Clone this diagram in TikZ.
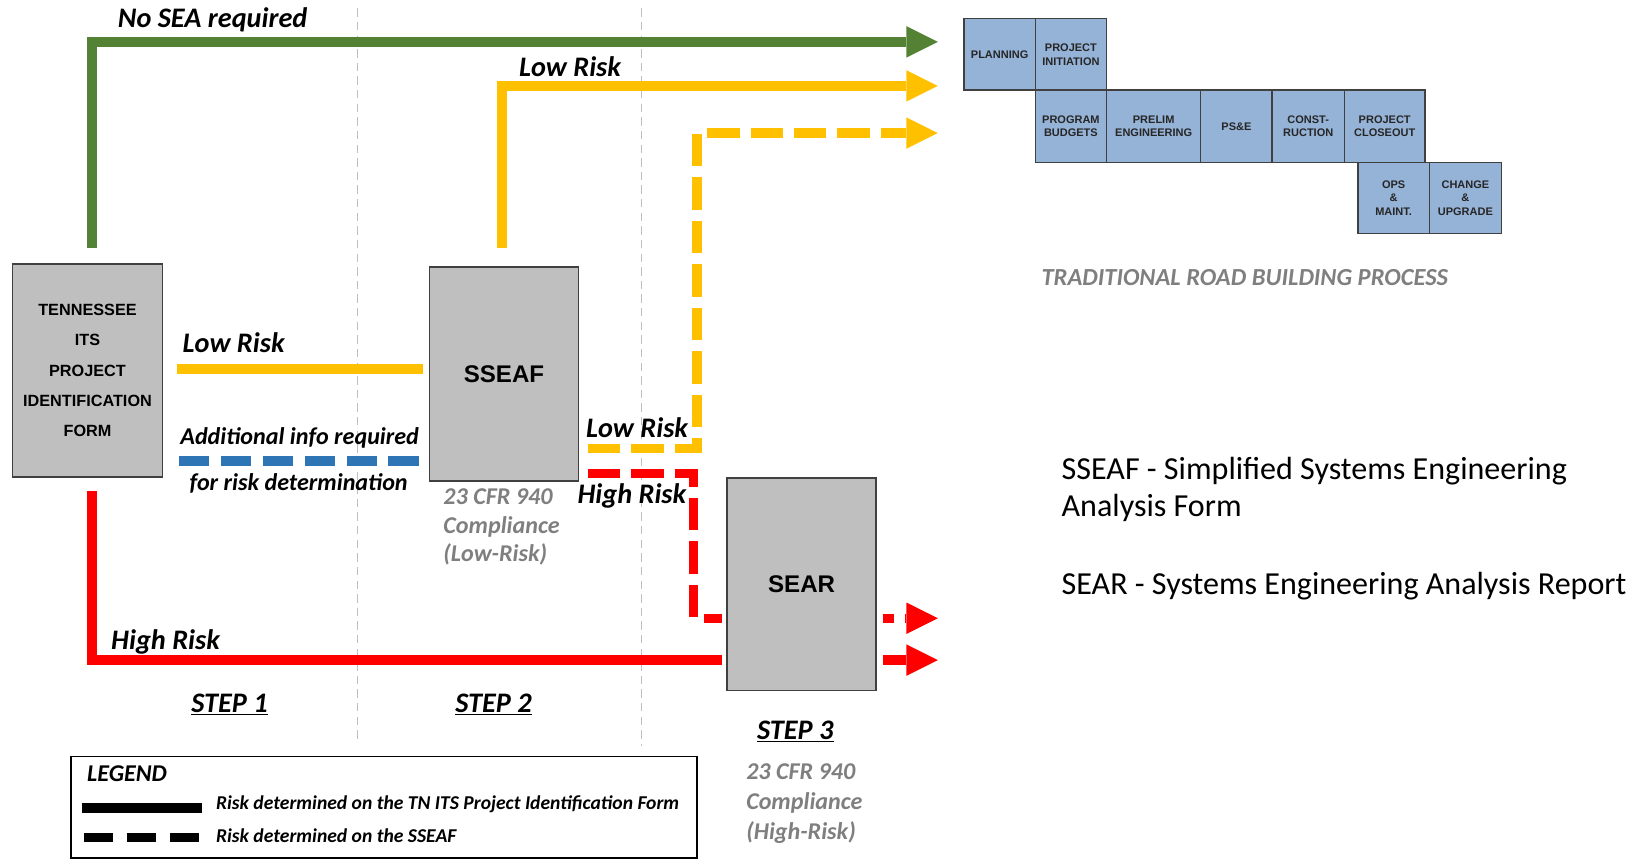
\documentclass[tikz,border=0pt]{standalone}
\usepackage{fontspec}
\setmainfont{Carlito}
\newfontfamily\arialf{Liberation Sans}
\usetikzlibrary{arrows.meta,calc}
\definecolor{cgreen}{HTML}{548235}
\definecolor{cyellow}{HTML}{FFC000}
\definecolor{cred}{HTML}{FF0000}
\definecolor{cblue}{HTML}{2E75B6}
\definecolor{boxgray}{HTML}{BFBFBF}
\definecolor{boxline}{HTML}{404040}
\definecolor{roadblue}{HTML}{95B3D7}
\definecolor{txtgray}{HTML}{7F7F7F}
\definecolor{guidegray}{HTML}{BFBFBF}
\begin{document}
\begin{tikzpicture}[x=1pt,y=-1pt,
  graybox/.style={draw=boxline, fill=boxgray, line width=1.5pt, inner sep=0pt},
  rbox/.style={draw=boxline, fill=roadblue, line width=1.2pt, inner sep=0pt, align=center,
    font=\arialf\bfseries\fontsize{10.5}{13}\selectfont, text=black!85},
  flow/.style={line width=9pt, line join=miter, line cap=butt},
  tipA/.style={-{Triangle[length=30pt,width=30pt,line width=0pt]}},
  dashA/.style={dash pattern=on 31pt off 10.5pt},
  lbl/.style={font=\fontsize{27}{32}\selectfont\bfseries\itshape, inner sep=0pt},
  sublbl/.style={font=\fontsize{23}{27}\selectfont\bfseries\itshape, inner sep=0pt},
  graytxt/.style={font=\fontsize{23}{27.5}\selectfont\bfseries\itshape, text=txtgray, inner sep=0pt, align=left},
  steplbl/.style={font=\fontsize{27}{31}\selectfont\bfseries\itshape, inner sep=0pt},
  guide/.style={draw=guidegray, line width=1pt, dash pattern=on 8pt off 5pt},
  deftxt/.style={font=\fontsize{30.6}{36}\selectfont, inner sep=0pt, anchor=west, align=left},
  legtxt/.style={font=\fontsize{18.7}{22}\selectfont\bfseries\itshape, inner sep=0pt, anchor=west}
]
\useasboundingbox (0,0) rectangle (1568,821);

% step guides
\draw[guide] (341,8) -- (341,708);
\draw[guide] (612,8) -- (612,712);

% main boxes
\node[graybox, minimum width=143pt, minimum height=203pt, align=center,
  font=\arialf\bfseries\fontsize{15.5}{28.75}\selectfont] (TN) at (83.5,353.5)
  {TENNESSEE\\ITS\\PROJECT\\IDENTIFICATION\\FORM};
\node[graybox, minimum width=142pt, minimum height=204pt,
  font=\arialf\bfseries\fontsize{23}{27}\selectfont] (SSEAF) at (481,357) {SSEAF};
\node[graybox, minimum width=142pt, minimum height=203pt,
  font=\arialf\bfseries\fontsize{23}{27}\selectfont] (SEAR) at (765,557.5) {SEAR};

% free ends
\coordinate (gEnd) at (895,40);
\coordinate (yEnd) at (895,82);
\coordinate (ydCorner) at (665,127);
\coordinate (ydEnd) at (895,127);
\coordinate (rdCorner) at (662,590);
\coordinate (rdEnd) at (895,590);
\coordinate (rEnd) at (895,630);

% connectors
\draw[flow, cgreen, tipA] ([xshift=4.5pt,yshift=15pt]TN.north) |- (gEnd);
\draw[flow, cyellow, tipA] ([xshift=-2pt,yshift=18pt]SSEAF.north) |- (yEnd);
\draw[flow, cyellow, shorten <=13pt, shorten >=6pt]
  ([yshift=1.5pt]TN.east) -- ([yshift=1.5pt]TN.east -| SSEAF.west);
\draw[flow, cblue, dash pattern=on 29pt off 11pt, shorten <=15pt, shorten >=8pt]
  ([yshift=-86.5pt]TN.east) -- ([yshift=-86.5pt]TN.east -| SSEAF.west);
\draw[flow, cyellow, dashA, tipA] ([xshift=8pt,yshift=-71pt]SSEAF.east) -| (ydCorner) -- (ydEnd);
\draw[flow, cred, dashA] ([xshift=8pt,yshift=-95pt]SSEAF.east) -| (rdCorner) -- ([xshift=-4pt,yshift=-32.5pt]SEAR.west);
\draw[flow, cred, dash pattern=on 10.5pt off 11pt, tipA] ([xshift=5.5pt,yshift=-32.5pt]SEAR.east) -- (rdEnd);
\draw[flow, cred] ([xshift=4.5pt,yshift=-13pt]TN.south) |- ([xshift=-4pt,yshift=-72.5pt]SEAR.west);
\draw[flow, cred, tipA] ([xshift=5.5pt,yshift=-72.5pt]SEAR.east) -- (rEnd);

% labels
\node[lbl] (lNoSEA) at (203,19) {No SEA required};
\node[lbl] (lLow1) at (544,64) {Low Risk};
\node[lbl] (lLow2) at (223,327) {Low Risk};
\node[sublbl] (lAdd) at (286,418) {Additional info required};
\node[sublbl] (lFor) at (285,461) {for risk determination};
\node[lbl] (lLow3) at (608,408) {Low Risk};
\node[lbl] (lHigh1) at (603,473) {High Risk};
\node[lbl] (lHigh2) at (158,613) {High Risk};

\node[graytxt, anchor=west] (cfr1) at (423,503) {23 CFR 940\\Compliance\\(Low-Risk)};
\node[graytxt, anchor=west, font=\fontsize{23}{28.5}\selectfont\bfseries\itshape] (cfr2) at (712,767) {23 CFR 940\\Compliance\\(High-Risk)};

\node[steplbl] (s1) at (219,672) {\underline{STEP 1}};
\node[steplbl] (s2) at (471,672) {\underline{STEP 2}};
\node[steplbl] (s3) at (759,698) {\underline{STEP 3}};

% legend
\node[draw=black, line width=1.5pt, minimum width=597pt, minimum height=97pt, inner sep=0pt] (legend) at (366.5,770.5) {};
\node[font=\fontsize{23}{27}\selectfont\bfseries\itshape, inner sep=0pt, anchor=west] (legT) at (83,738) {LEGEND};
\draw[line width=9pt, black] (78,771) -- (193,771);
\draw[line width=9pt, black, dash pattern=on 28pt off 13pt] (80,799) -- (190,799);
\node[legtxt] (leg1) at (206,768) {Risk determined on the TN ITS Project Identification Form};
\node[legtxt] (leg2) at (206,798) {Risk determined on the SSEAF};

% traditional road building process
\node[rbox, minimum width=68pt, minimum height=68pt] (planning) at (954,52) {PLANNING};
\node[rbox, minimum width=68pt, minimum height=68pt] (initiation) at (1022,52) {PROJECT\\INITIATION};
\node[rbox, minimum width=68pt, minimum height=69pt] (budgets) at (1022,120.5) {PROGRAM\\BUDGETS};
\node[rbox, minimum width=90pt, minimum height=69pt] (prelim) at (1101,120.5) {PRELIM\\ENGINEERING};
\node[rbox, minimum width=68pt, minimum height=69pt] (pse) at (1180,120.5) {PS\&E};
\node[rbox, minimum width=69pt, minimum height=69pt] (construction) at (1248.5,120.5) {CONST-\\RUCTION};
\node[rbox, minimum width=77pt, minimum height=69pt] (closeout) at (1321.5,120.5) {PROJECT\\CLOSEOUT};
\node[rbox, minimum width=68pt, minimum height=68pt] (ops) at (1330,189) {OPS\\\&\\MAINT.};
\node[rbox, minimum width=69pt, minimum height=68pt] (change) at (1398.5,189) {CHANGE\\\&\\UPGRADE};
\node[font=\fontsize{23.4}{27}\selectfont\bfseries\itshape, text=txtgray, inner sep=0pt] (trad) at (1188,265) {TRADITIONAL ROAD BUILDING PROCESS};

% definitions
\node[deftxt] (def1) at (1013,467) {SSEAF - Simplified Systems Engineering\\Analysis Form};
\node[deftxt] (def2) at (1013,559) {SEAR - Systems Engineering Analysis Report};
\end{tikzpicture}
\end{document}
